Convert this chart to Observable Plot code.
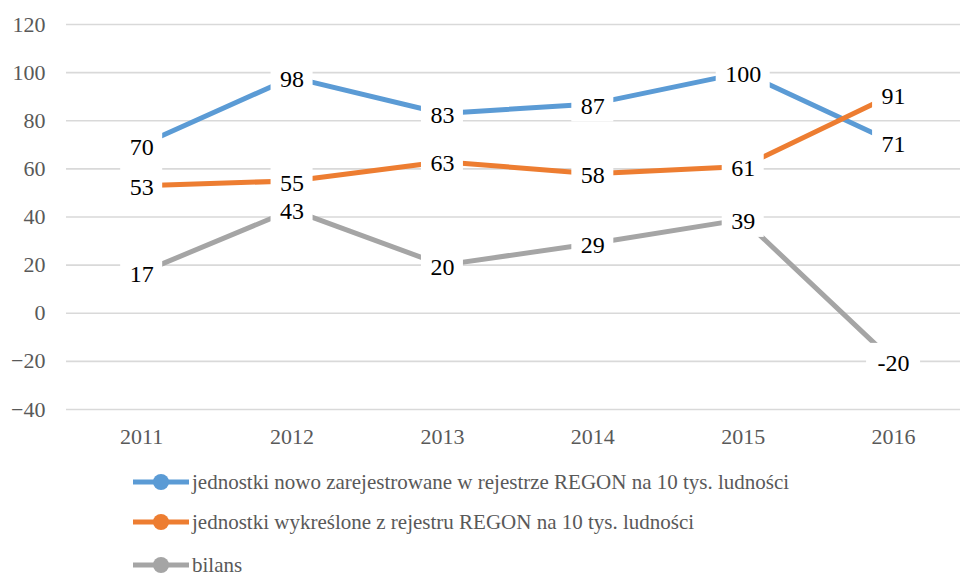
<!DOCTYPE html>
<html>
<head>
<meta charset="utf-8">
<script src="https://cdn.jsdelivr.net/npm/d3@7"></script>
<script src="https://cdn.jsdelivr.net/npm/@observablehq/plot@0.6"></script>
<style>
  body { margin: 0; background: #fff; font-family: 'Liberation Serif'; }
  #wrap { position: relative; width: 960px; height: 577px; }
  .item { position: absolute; left: 133px; height: 24px; display: flex; align-items: center; font-family: 'Liberation Serif'; font-size: 21px; color: #595959; white-space: nowrap; }
  .item svg { margin-right: 3px; }
  svg text { font-family: 'Liberation Serif'; }
</style>
</head>
<body>
<div id="wrap">
<script>
const years = [2011, 2012, 2013, 2014, 2015, 2016];
const seriesNames = [
  "jednostki nowo zarejestrowane w rejestrze REGON na 10 tys. ludności",
  "jednostki wykreślone z rejestru REGON na 10 tys. ludności",
  "bilans"
];
const registered = [70, 98, 83, 87, 100, 71];
const removed = [53, 55, 63, 58, 61, 91];
const balance = [17, 43, 20, 29, 39, -20];
const colors = ["#5B9BD5", "#ED7D31", "#A5A5A5"];
const yTicks = [-40, -20, 0, 20, 40, 60, 80, 100, 120];

const FONT = "Liberation Serif";
const seriesValues = [registered, removed, balance];
const data = [];
seriesValues.forEach((vals, s) => years.forEach((yr, i) => data.push({series: seriesNames[s], year: yr, value: vals[i], label: String(vals[i])})));

const chart = Plot.plot({
  width: 960,
  height: 455,
  marginLeft: 66,
  marginRight: 0,
  marginTop: 24,
  marginBottom: 46,
  style: {fontFamily: FONT, fontSize: "22px", color: "#595959", background: "transparent"},
  x: {domain: [2010.5, 2016.445], axis: null},
  y: {domain: [-40, 120], axis: null},
  color: {domain: seriesNames, range: colors},
  marks: [
    Plot.ruleY(yTicks, {stroke: "#D9D9D9", strokeWidth: 1.6}),
    Plot.axisY({ticks: yTicks, tickSize: 0, tickPadding: 21, fontSize: 22, fontFamily: FONT, fill: "#595959", label: null}),
    Plot.axisX({ticks: years, tickFormat: d => String(d), tickSize: 0, tickPadding: 19, fontSize: 22, fontFamily: FONT, fill: "#595959", label: null}),
    Plot.line(data, {x: "year", y: "value", z: "series", stroke: "series", strokeWidth: 5, strokeLinecap: "butt"}),
    Plot.dot(data, {x: "year", y: "value", fill: "series", r: 6}),
    Plot.rect(data.filter(d => d.label.length === 2), {x1: "year", x2: "year", y1: "value", y2: "value", fill: "white", insetLeft: -21, insetRight: -21, insetTop: -18, insetBottom: -18}),
    Plot.rect(data.filter(d => d.label.length === 3), {x1: "year", x2: "year", y1: "value", y2: "value", fill: "white", insetLeft: -27, insetRight: -27, insetTop: -18, insetBottom: -18}),
    Plot.text(data, {x: "year", y: "value", text: "label", fill: "#000", fontSize: 24, fontFamily: FONT, dy: 2})
  ]
});
document.write(chart.outerHTML);

const rowCenters = [482, 522, 565];
seriesNames.forEach((name, i) => {
  document.write(`<div class="item" style="top:${rowCenters[i] - 12}px"><svg width="56" height="20"><line x1="0" x2="56" y1="10" y2="10" stroke="${colors[i]}" stroke-width="5"/><circle cx="28" cy="10" r="8" fill="${colors[i]}"/></svg><span>${name}</span></div>`);
});
</script>
</div>
</body>
</html>
